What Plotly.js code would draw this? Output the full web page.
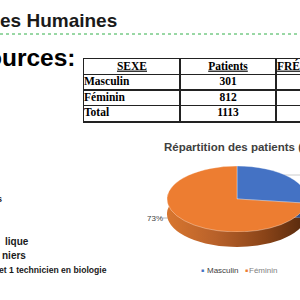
<!DOCTYPE html>
<html><head><meta charset="utf-8">
<script src="https://cdn.plot.ly/plotly-3.0.1.min.js"></script>
<style>
html,body{margin:0;padding:0;width:300px;height:300px;overflow:hidden;background:#fff;}
#main{position:absolute;left:0;top:0;width:420px;height:300px;}
.pie{position:absolute;width:140px;height:140px;transform-origin:0 0;transform:scaleY(0.471);}
#side{left:167px;top:181px;}
#top{left:167px;top:166px;}
</style></head><body>
<div id="main"></div><div id="side" class="pie"></div><div id="top" class="pie"></div>
<script>
// ---- data ----
const sexes = ['Masculin', 'Féminin'];
const patients = [301, 812];
const totalLabel = 'Total';
const headerLabels = ['SEXE', 'Patients', 'FRÉQUENCE (%)'];
const pieTitle = 'Répartition des patients (%)';
const slideTitle = 'es Humaines';
const slideHeading = 'ources:';
const bodyLines = ['s', 'lique', 'niers', 'et 1 technicien en biologie'];

// ---- styles ----
const topColors = ['#4472C4', '#ED7D31'];
const sideColors = ['#2F528F', '#A9561F'];
const sans = 'Liberation Sans, Arial, sans-serif';
const serif = 'Liberation Serif, Times New Roman, serif';

const total = patients.reduce((a, b) => a + b, 0);
const freqs = patients.map(v => v / total * 100);
const pctLabels = freqs.map(f => Math.round(f) + '%');

// ---- table drawn on its own axes (columns 0..3, rows 0..4) ----
const rowNames = sexes.concat([totalLabel]);
const rowCounts = patients.concat([total]);
const rowFreqs = freqs.concat([100]);
const nRows = rowNames.length + 1;
const nCols = headerLabels.length;
const tfont = {family: serif, size: 11.5, color: '#000'};
const headerTrace = {
  type: 'scatter', mode: 'text', xaxis: 'x2', yaxis: 'y2', cliponaxis: false,
  x: headerLabels.map((_, i) => i + 0.5), y: headerLabels.map(() => 0.5),
  text: headerLabels.map(h => '<b><u>' + h + '</u></b>'),
  textposition: 'middle center', textfont: tfont, hoverinfo: 'none'
};
const nameTrace = {
  type: 'scatter', mode: 'text', xaxis: 'x2', yaxis: 'y2', cliponaxis: false,
  x: rowNames.map(() => 0), y: rowNames.map((_, i) => i + 1.5),
  text: rowNames.map(s => '<b>' + s + '</b>'),
  textposition: 'middle right', textfont: tfont, hoverinfo: 'none'
};
const valueTrace = {
  type: 'scatter', mode: 'text', xaxis: 'x2', yaxis: 'y2', cliponaxis: false,
  x: rowCounts.map(() => 1.5).concat(rowFreqs.map(() => 2.5)),
  y: rowCounts.map((_, i) => i + 1.5).concat(rowFreqs.map((_, i) => i + 1.5)),
  text: rowCounts.map(v => '<b>' + v + '</b>').concat(rowFreqs.map(v => '<b>' + v.toFixed(2) + '</b>')),
  textposition: 'middle center', textfont: tfont, hoverinfo: 'none'
};

const bodyPos = [[3, 199, 9], [30, 241, 10], [27, 255.5, 10], [108, 269.5, 8.6]];
const annotations = [
  {x: 118, y: 20.5, text: '<b>' + slideTitle + '</b>', xanchor: 'right', font: {family: sans, size: 19, color: '#1a1a1a'}},
  {x: 77, y: 57, text: '<b>' + slideHeading + '</b>', xanchor: 'right', font: {family: sans, size: 24.5, color: '#000'}},
  {x: 163, y: 146.5, text: '<b>' + pieTitle + '</b>', xanchor: 'left', font: {family: sans, size: 11.5, color: '#404040'}},
  {x: 164, y: 218, text: pctLabels[1], xanchor: 'right', font: {family: sans, size: 8, color: '#404040'}},
  {x: 299, y: 170, text: pctLabels[0], xanchor: 'left', font: {family: sans, size: 8, color: '#404040'}},
  {x: 202, y: 270, text: '■', font: {family: sans, size: 5, color: topColors[0]}},
  {x: 206, y: 270, text: sexes[0], xanchor: 'left', font: {family: sans, size: 8, color: '#404040'}},
  {x: 246, y: 270, text: '■', font: {family: sans, size: 5, color: topColors[1]}},
  {x: 248, y: 270, text: sexes[1], xanchor: 'left', font: {family: sans, size: 8, color: '#808080'}}
].concat(bodyLines.map((t, i) => ({
  x: bodyPos[i][0], y: bodyPos[i][1], text: '<b>' + t + '</b>', xanchor: 'right',
  font: {family: sans, size: bodyPos[i][2], color: '#1a1a1a'}
}))).map(a => Object.assign({xref: 'x', yref: 'y', showarrow: false, yanchor: 'middle', borderpad: 0}, a));

const shapes = [
  {type: 'line', xref: 'x', yref: 'y', x0: 0, x1: 420, y0: 34, y1: 34, line: {color: '#33B04A', width: 1, dash: 'dot'}},
  {type: 'line', xref: 'x', yref: 'y', x0: 163, x1: 168, y0: 218, y1: 218, line: {color: '#A6A6A6', width: 0.8}},
  {type: 'line', xref: 'x', yref: 'y', x0: 281, x1: 310, y0: 175, y1: 175, line: {color: '#BFBFBF', width: 0.8}}
];

const gridAxis = {showgrid: true, gridcolor: '#222', gridwidth: 1.5, zeroline: false,
  showline: true, mirror: true, linecolor: '#222', linewidth: 1.5,
  showticklabels: false, ticks: '', fixedrange: true};

Plotly.newPlot('main', [headerTrace, nameTrace, valueTrace], {
  width: 420, height: 300, margin: {l: 0, r: 0, t: 0, b: 0},
  paper_bgcolor: '#fff', plot_bgcolor: 'rgba(0,0,0,0)',
  xaxis: {range: [0, 420], visible: false, fixedrange: true},
  yaxis: {range: [300, 0], visible: false, fixedrange: true},
  xaxis2: Object.assign({}, gridAxis, {domain: [84 / 420, 372 / 420], range: [0, nCols],
    tickvals: Array.from({length: nCols + 1}, (_, i) => i), anchor: 'y2'}),
  yaxis2: Object.assign({}, gridAxis, {domain: [1 - 121 / 300, 1 - 59 / 300], range: [nRows, 0],
    tickvals: Array.from({length: nRows + 1}, (_, i) => i), anchor: 'x2'}),
  annotations: annotations, shapes: shapes, showlegend: false
}, {staticPlot: true});

function pieTrace(colors, line) {
  return {
    type: 'pie', labels: sexes, values: patients, sort: false, direction: 'clockwise',
    rotation: 0, textinfo: 'none', hoverinfo: 'none', showlegend: false,
    marker: {colors: colors, line: line}
  };
}
const pieLayout = {width: 140, height: 140, margin: {l: 0, r: 0, t: 0, b: 0},
  paper_bgcolor: 'rgba(0,0,0,0)', plot_bgcolor: 'rgba(0,0,0,0)', showlegend: false};

Plotly.newPlot('side', [pieTrace(sideColors, {width: 0})], pieLayout, {staticPlot: true}).then(gd => {
  const svg = gd.querySelector('svg.main-svg');
  const ns = 'http://www.w3.org/2000/svg';
  let defs = svg.querySelector('defs');
  if (!defs) { defs = document.createElementNS(ns, 'defs'); svg.insertBefore(defs, svg.firstChild); }
  const g = document.createElementNS(ns, 'linearGradient');
  g.setAttribute('id', 'sideGrad');
  g.setAttribute('x1', '0'); g.setAttribute('y1', '0'); g.setAttribute('x2', '1'); g.setAttribute('y2', '0');
  [['0', '#D8762F'], ['0.35', '#B8612A'], ['0.7', '#8A4418'], ['1', '#55290D']].forEach(([o, c]) => {
    const s = document.createElementNS(ns, 'stop');
    s.setAttribute('offset', o); s.setAttribute('stop-color', c); g.appendChild(s);
  });
  defs.appendChild(g);
  const paths = gd.querySelectorAll('.slice path.surface');
  if (paths[1]) paths[1].style.fill = 'url(#sideGrad)';
});

Plotly.newPlot('top', [pieTrace(topColors, {color: 'rgba(255,255,255,0.45)', width: 1})], pieLayout, {staticPlot: true});
</script>
</body></html>
